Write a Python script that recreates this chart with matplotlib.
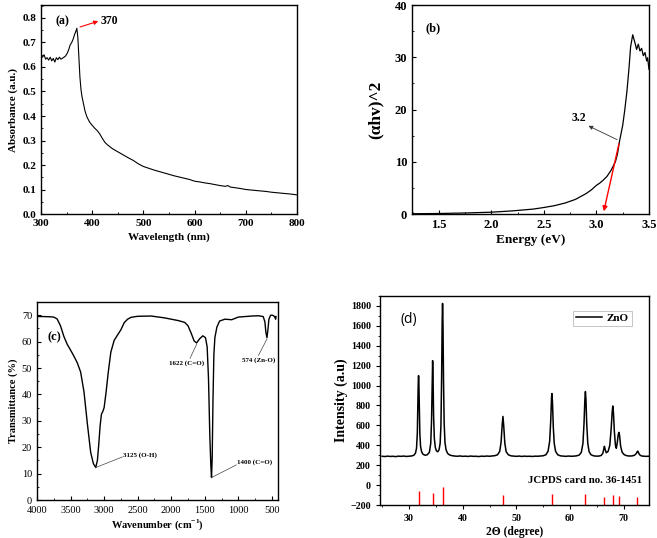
import matplotlib
matplotlib.use("Agg")
import matplotlib.pyplot as plt
from matplotlib.ticker import MultipleLocator

plt.rcParams['font.family'] = ['Liberation Serif', 'DejaVu Serif']
plt.rcParams['mathtext.fontset'] = 'custom'
plt.rcParams['mathtext.rm'] = 'Liberation Serif:bold'
plt.rcParams['mathtext.bf'] = 'Liberation Serif:bold'
plt.rcParams['axes.linewidth'] = 1.0

# ---------------- (a) UV-Vis absorbance ----------------
wl = [300, 303, 306, 309, 312, 315, 318, 321, 324, 327, 330, 333, 336, 339, 342, 345, 348, 351,
      354, 357, 360, 363, 366, 368, 370, 372, 374, 376, 378, 380, 383, 386, 390, 395, 400, 405,
      410, 415, 420, 425, 430, 440, 450, 460, 470, 480, 490, 500, 510, 520, 530, 540, 550, 560,
      570, 580, 590, 600, 610, 620, 630, 640, 650, 660, 665, 670, 680, 690, 700, 710, 720, 730,
      740, 750, 760, 770, 780, 790, 800]
absorb = [0.645, 0.640, 0.650, 0.632, 0.638, 0.628, 0.640, 0.625, 0.635, 0.620, 0.638, 0.630,
          0.640, 0.632, 0.636, 0.640, 0.645, 0.655, 0.670, 0.690, 0.700, 0.715, 0.735, 0.745,
          0.758, 0.720, 0.640, 0.560, 0.510, 0.480, 0.450, 0.420, 0.395, 0.375, 0.362, 0.350,
          0.340, 0.326, 0.308, 0.292, 0.282, 0.266, 0.254, 0.242, 0.230, 0.219, 0.205, 0.194,
          0.187, 0.180, 0.174, 0.168, 0.162, 0.156, 0.151, 0.146, 0.141, 0.134, 0.131, 0.127,
          0.124, 0.120, 0.116, 0.113, 0.116, 0.110, 0.107, 0.104, 0.100, 0.098, 0.096, 0.094,
          0.092, 0.089, 0.087, 0.085, 0.083, 0.081, 0.078]

# ---------------- (b) Tauc plot ----------------
energy = [1.25, 1.5, 1.75, 2.0, 2.2, 2.4, 2.5, 2.6, 2.7, 2.8, 2.9, 2.95, 3.0, 3.03, 3.06, 3.1,
          3.14, 3.18, 3.2, 3.22, 3.25, 3.27, 3.29, 3.31, 3.325, 3.345, 3.366, 3.382, 3.398,
          3.414, 3.43, 3.446, 3.462, 3.478, 3.487, 3.5]
tauc = [0.05, 0.1, 0.2, 0.35, 0.6, 0.95, 1.25, 1.6, 2.1, 2.8, 3.9, 4.6, 5.5, 5.9, 6.4, 7.2,
        8.4, 10.0, 11.5, 14.0, 17.0, 20.0, 23.5, 28.0, 32.0, 34.3, 32.8, 31.5, 32.5, 31.2,
        31.7, 30.3, 30.9, 29.3, 29.9, 27.7]

# ---------------- (c) FTIR ----------------
wn = [4000, 3900, 3800, 3750, 3700, 3650, 3600, 3550, 3500, 3450, 3400, 3350, 3300, 3250,
      3200, 3160, 3125, 3100, 3080, 3060, 3040, 3020, 3000, 2970, 2940, 2900, 2850, 2800,
      2750, 2700, 2650, 2600, 2500, 2300, 2100, 1900, 1800, 1750, 1700, 1660, 1622, 1580,
      1530, 1490, 1465, 1445, 1425, 1410, 1400, 1390, 1378, 1365, 1350, 1320, 1280, 1200,
      1100, 1000, 900, 800, 700, 630, 605, 590, 574, 560, 545, 520, 490, 460, 445, 440]
trans = [69.5, 69.5, 69.4, 69.3, 68.6, 66.0, 62.0, 59.0, 56.8, 54.5, 52.0, 48.5, 41.0, 29.0,
         18.0, 13.8, 12.3, 15.0, 21.0, 28.0, 32.5, 33.5, 35.0, 41.0, 48.0, 56.0, 60.5, 62.5,
         64.5, 67.2, 68.5, 69.2, 69.6, 69.7, 69.0, 68.0, 67.3, 66.0, 63.0, 60.3, 59.5, 61.0,
         62.2, 61.5, 58.0, 46.0, 24.0, 13.0, 8.5, 16.0, 38.0, 55.0, 61.5, 65.5, 67.8, 68.5,
         68.3, 69.3, 69.5, 69.7, 69.8, 69.5, 67.5, 63.5, 61.5, 64.5, 68.5, 70.0, 70.0, 69.5,
         68.5, 69.5]

# ---------------- (d) XRD ----------------
two_theta = [25.0, 25.5, 26.0, 26.5, 27.0, 27.5, 28.0, 28.5, 29.0, 29.5, 30.0, 30.5, 30.9, 31.2,
             31.4, 31.55, 31.65, 31.72, 31.78, 31.84, 31.92, 32.02, 32.15, 32.35, 32.6, 33.0,
             33.4, 33.8, 34.05, 34.2, 34.32, 34.4, 34.48, 34.58, 34.72, 34.9, 35.1, 35.35, 35.6,
             35.8, 35.95, 36.08, 36.18, 36.25, 36.33, 36.43, 36.55, 36.7, 36.9, 37.2, 37.6, 38.0,
             38.5, 39.0, 39.5, 40.0, 40.5, 41.0, 41.5, 42.0, 42.5, 43.0, 43.5, 44.0, 44.5, 45.0,
             45.5, 46.0, 46.5, 46.9, 47.15, 47.35, 47.5, 47.65, 47.85, 48.1, 48.5, 49.0, 49.5,
             50.0, 50.5, 51.0, 51.5, 52.0, 52.5, 53.0, 53.5, 54.0, 54.5, 55.0, 55.5, 55.9, 56.2,
             56.4, 56.55, 56.62, 56.72, 56.88, 57.05, 57.3, 57.7, 58.2, 58.7, 59.2, 59.7, 60.2,
             60.7, 61.2, 61.7, 62.1, 62.4, 62.6, 62.75, 62.86, 62.96, 63.1, 63.3, 63.55, 63.9,
             64.4, 64.9, 65.4, 65.8, 66.1, 66.28, 66.4, 66.52, 66.75, 67.1, 67.4, 67.65, 67.85,
             67.96, 68.08, 68.25, 68.45, 68.62, 68.8, 68.98, 69.1, 69.22, 69.42, 69.7, 70.1, 70.6,
             71.1, 71.6, 72.0, 72.3, 72.5, 72.6, 72.72, 72.95, 73.3, 73.8, 74.3, 74.8, 75.0]
intensity = [290, 287, 291, 288, 290, 286, 291, 289, 292, 288, 291, 293, 300, 320,
             370, 520, 800, 1020, 1100, 1020, 780, 520, 390, 335, 310, 300,
             305, 330, 420, 650, 1050, 1250, 1080, 700, 470, 380, 345, 335, 355,
             420, 600, 1100, 1650, 1825, 1620, 1050, 620, 430, 355, 318, 302, 296,
             292, 290, 293, 289, 291, 288, 292, 289, 290, 287, 291, 289, 292, 290,
             293, 296, 305, 340, 430, 600, 690, 590, 420, 335, 305, 294, 291,
             289, 292, 288, 291, 289, 290, 288, 291, 290, 292, 295, 305, 340, 440,
             650, 880, 920, 840, 580, 420, 340, 305, 294, 291, 289, 292, 290,
             291, 294, 302, 330, 420, 620, 850, 940, 860, 620, 420, 335, 305,
             294, 291, 292, 298, 320, 365, 390, 360, 325, 340, 400, 560, 740,
             795, 730, 540, 400, 370, 430, 510, 530, 500, 390, 330, 305, 295,
             292, 294, 300, 315, 335, 342, 330, 305, 293, 290, 289, 291, 290]
ref_pos = [31.77, 34.42, 36.25, 47.54, 56.6, 62.86, 66.38, 67.96, 69.1, 72.56]
ref_top = [-61, -78, -17, -98, -88, -92, -115, -98, -108, -119]

fig = plt.figure(figsize=(6.57, 5.38), dpi=100)

# ----- panel a -----
ax = fig.add_axes([0.0624, 0.6022, 0.3896, 0.3885])
ax.plot(wl, absorb, color='black', lw=0.8)
ax.set_xlim(300, 800)
ax.set_ylim(0, 0.853)
ax.xaxis.set_major_locator(MultipleLocator(100))
ax.xaxis.set_minor_locator(MultipleLocator(50))
ax.yaxis.set_major_locator(MultipleLocator(0.1))
ax.yaxis.set_minor_locator(MultipleLocator(0.05))
ax.tick_params(which='both', direction='in', labelsize=8)
ax.tick_params(which='major', length=3)
ax.tick_params(which='minor', length=1.5)
for lab in ax.get_xticklabels() + ax.get_yticklabels():
    lab.set_fontweight('bold')
ax.set_xlabel('Wavelength (nm)', fontsize=8, fontweight='bold', labelpad=3)
ax.set_ylabel('Absorbance (a.u.)', fontsize=8, fontweight='bold', labelpad=3)
ax.text(329, 0.785, '(a)', fontsize=8.5, fontweight='bold', va='center')
ax.annotate('', xy=(417, 0.79), xytext=(371, 0.76),
            arrowprops=dict(arrowstyle='-|>', color='red', lw=0.8, mutation_scale=6))
ax.text(417, 0.789, '370', fontsize=8.5, fontweight='bold', va='center')

# ----- panel b -----
ax = fig.add_axes([0.6271, 0.6022, 0.3607, 0.3885])
ax.plot(energy, tauc, color='black', lw=0.9)
ax.set_xlim(1.243, 3.5)
ax.set_ylim(0, 40)
ax.xaxis.set_major_locator(MultipleLocator(0.5))
ax.xaxis.set_minor_locator(MultipleLocator(0.25))
ax.yaxis.set_major_locator(MultipleLocator(10))
ax.yaxis.set_minor_locator(MultipleLocator(5))
ax.tick_params(which='both', direction='in', labelsize=9)
ax.tick_params(which='major', length=3)
ax.tick_params(which='minor', length=1.5)
for lab in ax.get_xticklabels() + ax.get_yticklabels():
    lab.set_fontweight('bold')
ax.set_xlabel('Energy (eV)', fontsize=9.5, fontweight='bold', labelpad=2)
ax.set_ylabel('(αhv)^2', fontsize=12.5, fontweight='bold', labelpad=8)
ax.text(1.37, 35.5, '(b)', fontsize=9, fontweight='bold', va='center')
ax.annotate('', xy=(3.064, 0.0), xytext=(3.22, 14.0),
            arrowprops=dict(arrowstyle='-|>', color='red', lw=1.0, mutation_scale=7))
ax.annotate('', xy=(2.90, 17.1), xytext=(3.22, 14.0),
            arrowprops=dict(arrowstyle='-|>', color='#333333', lw=0.6, mutation_scale=6))
ax.text(2.83, 18.3, '3.2', fontsize=8.5, fontweight='bold', ha='center', va='center')

# ----- panel c -----
ax = fig.add_axes([0.0563, 0.0706, 0.3668, 0.368])
ax.plot(wn, trans, color='black', lw=1.0)
ax.set_xlim(4000, 410)
ax.set_ylim(0, 75)
ax.xaxis.set_major_locator(MultipleLocator(500))
ax.xaxis.set_minor_locator(MultipleLocator(250))
ax.yaxis.set_major_locator(MultipleLocator(10))
ax.yaxis.set_minor_locator(MultipleLocator(5))
ax.tick_params(which='both', direction='in', labelsize=7.5)
ax.tick_params(which='major', length=3)
ax.tick_params(which='minor', length=1.5)
ax.tick_params(axis='x', pad=4)
ax.set_xlabel('Wavenumber (cm$^{-1}$)', fontsize=7.5, fontweight='bold', labelpad=2)
ax.set_ylabel('Transmittance (%)', fontsize=7.5, fontweight='bold', labelpad=3)
ax.text(3850, 61.5, '(c)', fontsize=9, fontweight='bold', va='center')
ann_kw = dict(color='#444444', lw=0.5)
ax.plot([3125, 2730], [12.3, 16.3], **ann_kw)
ax.text(2726, 17.0, '3125 (O-H)', fontsize=5, fontweight='bold', va='center')
ax.plot([1400, 1030], [8.5, 13.3], **ann_kw)
ax.text(1022, 14.2, '1400 (C=O)', fontsize=5, fontweight='bold', va='center')
ax.plot([1622, 1720], [59.0, 53.7], **ann_kw)
ax.text(1775, 51.8, '1622 (C=O)', fontsize=5, fontweight='bold', va='center', ha='center')
ax.plot([574, 700], [61.0, 54.8], **ann_kw)
ax.text(695, 53.0, '574 (Zn-O)', fontsize=5, fontweight='bold', va='center', ha='center')

# ----- panel d -----
ax = fig.add_axes([0.5784, 0.0613, 0.4094, 0.3885])
ax.plot(two_theta, intensity, color='black', lw=1.1, label='ZnO')
ax.vlines(ref_pos, -200, ref_top, color='red', lw=1.0)
ax.set_xlim(24.6, 74.7)
ax.set_ylim(-200, 1900)
ax.xaxis.set_major_locator(MultipleLocator(10))
ax.xaxis.set_minor_locator(MultipleLocator(5))
ax.yaxis.set_major_locator(MultipleLocator(200))
ax.yaxis.set_minor_locator(MultipleLocator(100))
ax.tick_params(which='both', direction='out', labelsize=7.2)
ax.tick_params(which='major', length=3)
ax.tick_params(which='minor', length=1.5)
for lab in ax.get_xticklabels() + ax.get_yticklabels():
    lab.set_fontweight('bold')
ax.set_xlabel('2Θ (degree)', fontsize=8.3, fontweight='bold', labelpad=2)
ax.set_ylabel('Intensity (a.u)', fontsize=10, fontweight='bold', labelpad=2)
ax.text(30.0, 1664, '(d)', fontsize=10, family=['Open Sans', 'DejaVu Sans'],
        ha='center', va='center')
ax.text(73.5, 44, 'JCPDS card no. 36-1451', fontsize=7.8, fontweight='bold',
        ha='right', va='center')
leg = ax.legend(loc='upper right', bbox_to_anchor=(0.935, 0.93),
                prop={'weight': 'bold', 'size': 8}, handlelength=2.4, fancybox=False,
                borderpad=0.25, handletextpad=0.4, borderaxespad=0)
leg.get_frame().set_edgecolor('#aaaaaa')
leg.get_frame().set_linewidth(0.6)

fig.savefig('out.png', dpi=100)
